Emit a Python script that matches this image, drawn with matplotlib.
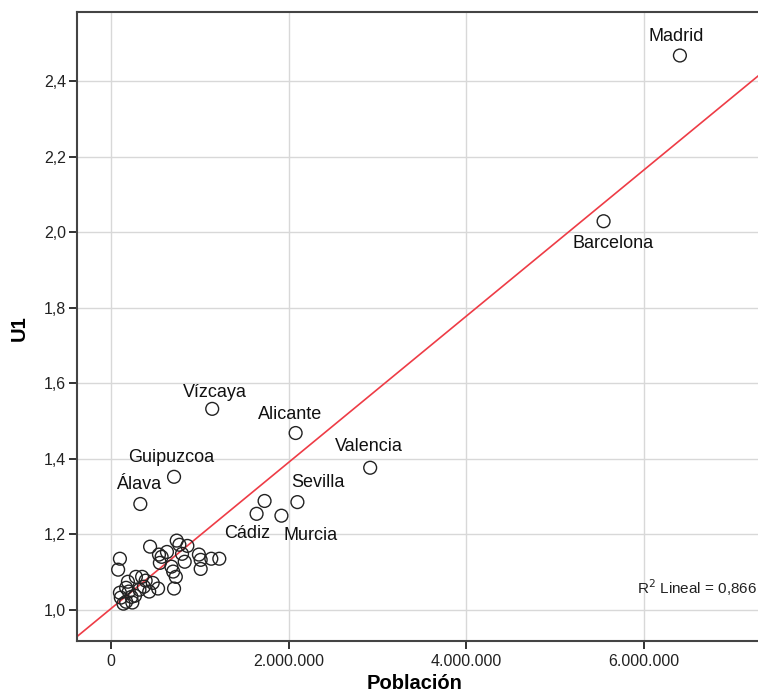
import matplotlib
matplotlib.use("Agg")
import matplotlib.pyplot as plt
from matplotlib.ticker import FuncFormatter

plt.rcParams["font.family"] = ["Liberation Sans", "DejaVu Sans"]

# provinces with a label (poblacion in millions, U1)
labels = ["Madrid", "Barcelona", "Valencia", "Alicante", "Vízcaya", "Guipuzcoa",
          "Álava", "Sevilla", "Murcia", "Cádiz"]
lab_pob = [6.41, 5.55, 2.92, 2.08, 1.14, 0.71, 0.33, 2.10, 1.92, 1.64]
lab_u1 = [2.468, 2.029, 1.376, 1.468, 1.532, 1.352, 1.280, 1.285, 1.249, 1.254]
# label offsets in points (dx, dy)
lab_off = [(-3, 14), (7, -16), (-1, 15), (-4, 13), (2, 12), (-2, 14),
           (-1, 14), (15, 14), (21, -14), (-7, -14)]

# unlabeled provinces
pob = [1.73, 0.10, 0.08, 0.44, 0.74, 0.77, 0.86, 0.63, 0.54, 0.57, 0.55, 0.68,
       0.70, 0.73, 0.83, 0.80, 0.99, 1.01, 1.13, 1.22, 1.01, 0.71, 0.53, 0.43,
       0.37, 0.28, 0.35, 0.19, 0.17, 0.20, 0.11, 0.17, 0.23, 0.27, 0.14, 0.24,
       0.10, 0.32, 0.39, 0.47]
u1 = [1.288, 1.135, 1.106, 1.167, 1.183, 1.172, 1.169, 1.153, 1.146, 1.140, 1.124,
      1.114, 1.101, 1.087, 1.127, 1.148, 1.146, 1.132, 1.135, 1.135, 1.108, 1.056,
      1.056, 1.048, 1.061, 1.087, 1.087, 1.074, 1.058, 1.048, 1.032, 1.021, 1.034,
      1.037, 1.016, 1.019, 1.045, 1.053, 1.077, 1.071]

# linear fit (U1 = a + b * poblacion in millions)
fit_a = 1.003
fit_b = 0.1935
r2_text = "R$^2$ Lineal = 0,866"

x_ticks = [0, 2, 4, 6]
y_ticks = [1.0, 1.2, 1.4, 1.6, 1.8, 2.0, 2.2, 2.4]

fig = plt.figure(figsize=(7.58, 6.93), dpi=100)
ax = fig.add_axes([0.102, 0.075, 0.898, 0.907])

ax.set_xlim(-0.38, 7.29)
ax.set_ylim(0.917, 2.582)

ax.grid(True, color="#d8d8d8", linewidth=1.0, zorder=0)
ax.set_axisbelow(True)

xs = [-0.38, 7.29]
ax.plot(xs, [fit_a + fit_b * v for v in xs], color="#ee3c46", linewidth=1.2, zorder=2)

all_x = lab_pob + pob
all_y = lab_u1 + u1
ax.scatter(all_x, all_y, s=85, facecolors="none", edgecolors="#222222",
           linewidths=1.0, zorder=3)

for name, px, py, (dx, dy) in zip(labels, lab_pob, lab_u1, lab_off):
    ax.annotate(name, (px, py), xytext=(dx, dy), textcoords="offset points",
                ha="center", va="center", fontsize=13, color="#111111", zorder=4)

ax.text(0.999, 0.085, r2_text, transform=ax.transAxes, ha="right", va="center",
        fontsize=11, color="#222222")

ax.set_xticks(x_ticks)
ax.set_yticks(y_ticks)
ax.xaxis.set_major_formatter(FuncFormatter(lambda v, p: f"{int(round(v * 1e6)):,}".replace(",", ".")))
ax.yaxis.set_major_formatter(FuncFormatter(lambda v, p: f"{v:.1f}".replace(".", ",")))
ax.tick_params(axis="both", labelsize=11.5, colors="#222222", direction="out",
               length=6, width=1.3)
ax.tick_params(axis="y", pad=2)

for side in ["left", "bottom", "top"]:
    ax.spines[side].set_color("#444444")
    ax.spines[side].set_linewidth(1.5)
ax.spines["right"].set_visible(False)

ax.set_xlabel("Población", fontsize=14.5, fontweight="bold")
ax.set_ylabel("U1", fontsize=14.5, fontweight="bold")
ax.xaxis.set_label_coords(0.495, -0.053)
ax.yaxis.set_label_coords(-0.072, 0.498)

fig.savefig("out.png", dpi=100)
